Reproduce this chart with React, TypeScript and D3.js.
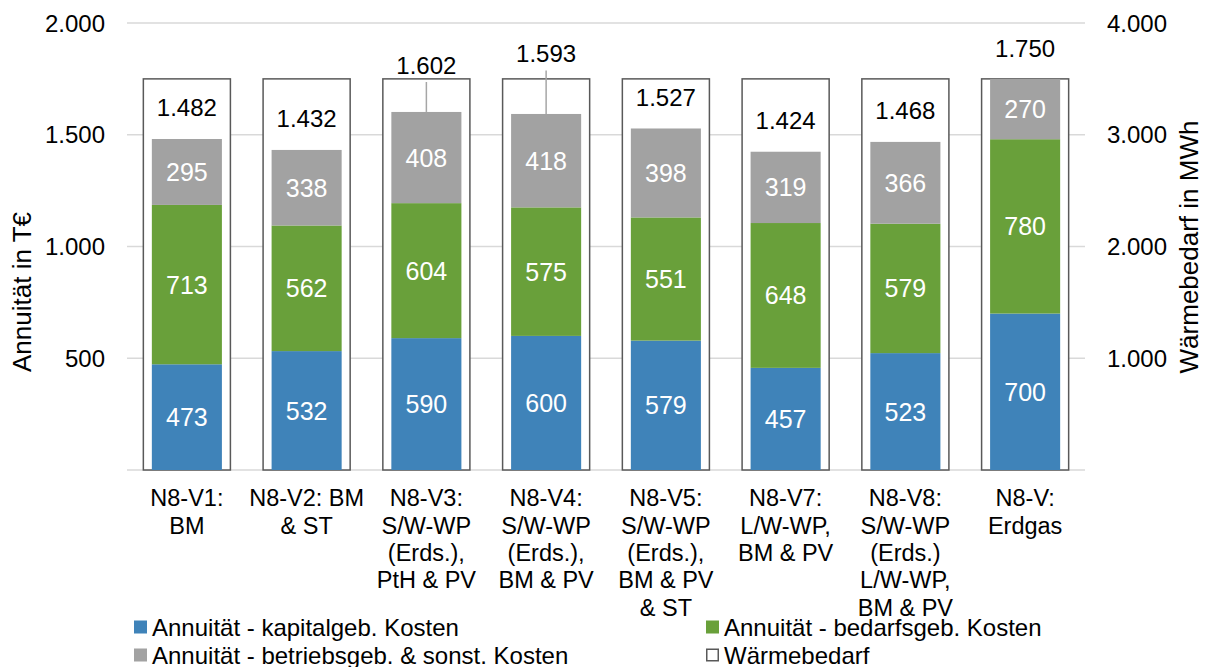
import React, { useEffect } from "react";
import * as d3 from "d3";

const categories: string[][] = [
  ["N8-V1:", "BM"],
  ["N8-V2: BM", "& ST"],
  ["N8-V3:", "S/W-WP", "(Erds.),", "PtH & PV"],
  ["N8-V4:", "S/W-WP", "(Erds.),", "BM & PV"],
  ["N8-V5:", "S/W-WP", "(Erds.),", "BM & PV", "& ST"],
  ["N8-V7:", "L/W-WP,", "BM & PV"],
  ["N8-V8:", "S/W-WP", "(Erds.)", "L/W-WP,", "BM & PV"],
  ["N8-V:", "Erdgas"],
];
const kapital = [473, 532, 590, 600, 579, 457, 523, 700];
const bedarf = [713, 562, 604, 575, 551, 648, 579, 780];
const betrieb = [295, 338, 408, 418, 398, 319, 366, 270];
const totals = [1482, 1432, 1602, 1593, 1527, 1424, 1468, 1750];
const waermebedarf = [3500, 3500, 3500, 3500, 3500, 3500, 3500, 3500];
// manually moved total labels (left-axis units), null = default above bar
const totalLabelAt: (number | null)[] = [null, null, 1812, 1864, null, null, null, 1888];
const leftTicks = [500, 1000, 1500, 2000];
const rightTicks = [1000, 2000, 3000, 4000];

const seriesNames = [
  "Annuität - kapitalgeb. Kosten",
  "Annuität - bedarfsgeb. Kosten",
  "Annuität - betriebsgeb. & sonst. Kosten",
  "Wärmebedarf",
];
const colors = ["#3F83B9", "#69A03A", "#A2A2A2"];

const de = d3.formatLocale({ decimal: ",", thousands: ".", grouping: [3], currency: ["", " €"] });
const fmt = de.format(",d");

const FONT = "'Liberation Sans', Arial, sans-serif";

export default function App() {
  useEffect(() => {
    document.body.style.margin = "0";
  }, []);

  const left = 127, right = 1085, top = 23, bottom = 470;
  const x = d3.scaleBand<number>().domain(d3.range(categories.length)).range([left, right]).paddingInner(0).paddingOuter(0);
  const y = d3.scaleLinear().domain([0, 2000]).range([bottom, top]);
  const y2 = d3.scaleLinear().domain([0, 4000]).range([bottom, top]);
  const bw = x.bandwidth();
  const boxW = bw * 0.727;
  const barW = bw * 0.585;

  const stackData = categories.map((_, i) => ({ i, k: kapital[i], b: bedarf[i], s: betrieb[i] }));
  const stack = d3.stack<any>().keys(["k", "b", "s"])(stackData);

  return (
    <svg width={1207} height={667} style={{ display: "block", fontFamily: FONT }}>
      <rect x={0} y={0} width={1207} height={667} fill="#fff" />
      {/* gridlines */}
      {[0, ...leftTicks].map((t) => (
        <line key={"g" + t} x1={left} x2={right} y1={y(t)} y2={y(t)} stroke="#D9D9D9" strokeWidth={1.5} />
      ))}
      {/* Wärmebedarf boxes */}
      {waermebedarf.map((v, i) => (
        <rect
          key={"w" + i}
          x={x(i)! + (bw - boxW) / 2}
          y={y2(v)}
          width={boxW}
          height={y2(0) - y2(v)}
          fill="#fff"
          stroke="#595959"
          strokeWidth={1.5}
        />
      ))}
      {/* stacked bars */}
      {stack.map((layer, si) =>
        layer.map((d, i) => (
          <g key={"s" + si + "-" + i}>
            <rect
              x={x(i)! + (bw - barW) / 2}
              y={y(d[1])}
              width={barW}
              height={y(d[0]) - y(d[1])}
              fill={colors[si]}
            />
            <text
              x={x(i)! + bw / 2}
              y={(y(d[0]) + y(d[1])) / 2}
              dy="0.36em"
              textAnchor="middle"
              fontSize={25}
              fill="#fff"
            >
              {fmt(d[1] - d[0])}
            </text>
          </g>
        ))
      )}
      {/* totals */}
      {totals.map((t, i) => {
        const cx = x(i)! + bw / 2;
        const manual = totalLabelAt[i];
        const ly = manual != null ? y(manual) : y(t) - 31.5;
        const barTop = y(stack[2][i][1]);
        const y1 = ly + 17;
        return (
          <g key={"t" + i}>
            {manual != null && barTop - y1 > 20 && (
              <line x1={cx} x2={cx} y1={y1} y2={barTop} stroke="#A6A6A6" strokeWidth={1.5} />
            )}
            <text x={cx} y={ly} dy="0.36em" textAnchor="middle" fontSize={24} fill="#000">
              {fmt(t)}
            </text>
          </g>
        );
      })}
      {/* left ticks */}
      {leftTicks.map((t) => (
        <text key={"lt" + t} x={105} y={y(t)} dy="0.36em" textAnchor="end" fontSize={24} fill="#000">
          {fmt(t)}
        </text>
      ))}
      {/* right ticks */}
      {rightTicks.map((t) => (
        <text key={"rt" + t} x={1107} y={y2(t)} dy="0.36em" textAnchor="start" fontSize={24} fill="#000">
          {fmt(t)}
        </text>
      ))}
      {/* axis titles */}
      <text transform={`translate(22,292) rotate(-90)`} dy="0.36em" textAnchor="middle" fontSize={26} fill="#000">
        Annuität in T€
      </text>
      <text transform={`translate(1189,247) rotate(-90)`} dy="0.36em" textAnchor="middle" fontSize={26} fill="#000">
        Wärmebedarf in MWh
      </text>
      {/* category labels */}
      {categories.map((lines, i) => (
        <text key={"c" + i} x={x(i)! + bw / 2} y={498} textAnchor="middle" fontSize={23.5} fill="#000">
          {lines.map((l, j) => (
            <tspan key={j} x={x(i)! + bw / 2} y={498 + j * 27.3} dy="0.36em">
              {l}
            </tspan>
          ))}
        </text>
      ))}
      {/* legend */}
      {seriesNames.map((name, i) => {
        const lx = i % 2 === 0 ? 134 : 706;
        const ly = i < 2 ? 627 : 655;
        return (
          <g key={"lg" + i}>
            {i < 3 ? (
              <rect x={lx} y={ly - 6.5} width={13} height={13} fill={colors[i]} />
            ) : (
              <rect x={lx + 0.75} y={ly - 5.75} width={11.5} height={11.5} fill="#fff" stroke="#595959" strokeWidth={1.5} />
            )}
            <text x={lx + 18} y={ly} dy="0.36em" fontSize={24} fill="#000">
              {name}
            </text>
          </g>
        );
      })}
    </svg>
  );
}
